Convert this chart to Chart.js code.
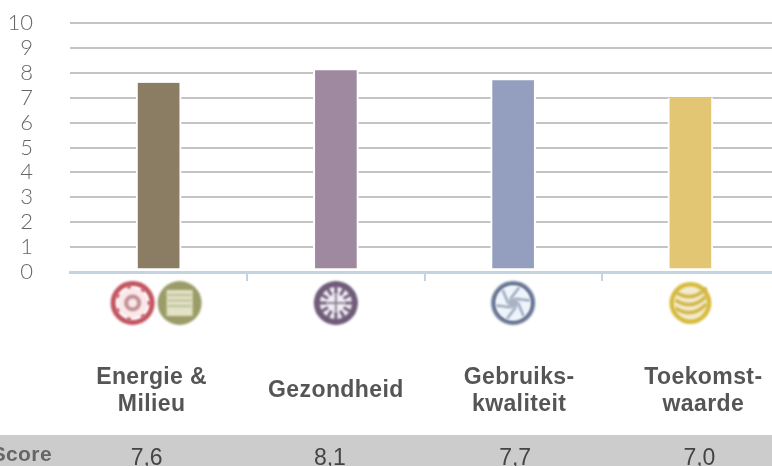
<!DOCTYPE html>
<html>
<head>
<meta charset="utf-8">
<style>
  html, body { margin: 0; padding: 0; background: #fff; overflow: hidden; width: 772px; height: 466px; }
  canvas { display: block; }
</style>
<script src="https://cdn.jsdelivr.net/npm/chart.js@4/dist/chart.umd.min.js"></script>
</head>
<body>
<canvas id="myChart" width="790" height="466"></canvas>
<script>
const categories = ["Energie & Milieu", "Gezondheid", "Gebruiks-kwaliteit", "Toekomst-waarde"];
const labelLines = [["Energie &", "Milieu"], ["Gezondheid"], ["Gebruiks-", "kwaliteit"], ["Toekomst-", "waarde"]];
const scores = [7.6, 8.1, 7.7, 7.0];
const barColors = ["#8a7d64", "#9f89a0", "#949fc0", "#e3c673"];
const yTicks = [0, 1, 2, 3, 4, 5, 6, 7, 8, 9, 10];
const rowTitle = "Score";

// the labels sit a bit off the bar centres in the original
const labelShift = [-7, 0, 6, 13];
const scoreShift = [-12, -6, 2, 9];

const axisBlue = "#c3d3e0";

function ring(ctx, x, y, r, color, lw) {
  ctx.beginPath();
  ctx.arc(x, y, r, 0, Math.PI * 2);
  ctx.strokeStyle = color;
  ctx.lineWidth = lw;
  ctx.stroke();
}

function dot(ctx, x, y, r, color) {
  ctx.beginPath();
  ctx.arc(x, y, r, 0, Math.PI * 2);
  ctx.fillStyle = color;
  ctx.fill();
}

function spokes(ctx, x, y, r1, r2, n, color, lw, skew) {
  ctx.strokeStyle = color;
  ctx.lineWidth = lw;
  for (let i = 0; i < n; i++) {
    const a = (i / n) * Math.PI * 2;
    ctx.beginPath();
    ctx.moveTo(x + r1 * Math.cos(a), y + r1 * Math.sin(a));
    ctx.lineTo(x + r2 * Math.cos(a + skew), y + r2 * Math.sin(a + skew));
    ctx.stroke();
  }
}

function drawIcons(ctx, centers) {
  const y = 303;
  ctx.save();
  ctx.filter = "blur(1px)";

  // red flower
  let x = centers[0] - 26;
  ring(ctx, x, y, 19.5, "#c2545f", 5);
  dot(ctx, x, y, 15, "#fbe9ea");
  ring(ctx, x, y, 6.5, "#c08f95", 4);
  spokes(ctx, x, y, 15, 18, 7, "#c2545f", 4, 0);

  // olive square
  x = centers[0] + 21;
  dot(ctx, x, y, 22, "#9b9c68");
  ctx.fillStyle = "#e1e2c6";
  ctx.fillRect(x - 13, y - 13, 26, 26);
  ctx.strokeStyle = "#b3b48a";
  ctx.lineWidth = 1.5;
  for (let i = -8; i <= 8; i += 5.5) {
    ctx.beginPath();
    ctx.moveTo(x - 12, y + i);
    ctx.lineTo(x + 12, y + i);
    ctx.stroke();
  }

  // purple snowflake
  x = centers[1];
  dot(ctx, x, y, 22, "#6f5c7a");
  dot(ctx, x, y, 16, "#f3eef5");
  spokes(ctx, x, y, 9, 20, 12, "#6f5c7a", 3, 0);
  ctx.fillStyle = "#8f8298";
  ctx.fillRect(x - 9, y - 1, 18, 2);
  ctx.fillRect(x - 1, y - 9, 2, 18);

  // blue shutter
  x = centers[2];
  ring(ctx, x, y, 19.5, "#6a7895", 5);
  dot(ctx, x, y, 17, "#eef4fb");
  spokes(ctx, x, y, 5, 17, 6, "#8d98b0", 2, 0.9);
  dot(ctx, x, y, 5.5, "#a9b2c4");

  // yellow globe
  x = centers[3];
  dot(ctx, x, y, 21, "#d6bb3c");
  dot(ctx, x, y, 16.5, "#f3ecd0");
  ctx.strokeStyle = "#d2b64a";
  ctx.lineWidth = 3.5;
  [-9, -1, 7].forEach(function (b) {
    ctx.beginPath();
    ctx.moveTo(x - 15, y + b - 2);
    ctx.quadraticCurveTo(x + 2, y + b + 9, x + 16, y + b - 6);
    ctx.stroke();
  });
  ctx.restore();
}

const extras = {
  id: "extras",
  afterDraw(chart) {
    const ctx = chart.ctx;
    const xs = chart.scales.x;
    const centers = categories.map((c, i) => xs.getPixelForValue(i));

    drawIcons(ctx, centers);

    ctx.save();
    ctx.fillStyle = "#cccccc";
    ctx.fillRect(0, 435, chart.width, 31);

    ctx.textAlign = "center";
    ctx.textBaseline = "middle";
    ctx.letterSpacing = "0.4px";
    ctx.font = 'bold 23px "Liberation Sans", Arial, sans-serif';
    ctx.fillStyle = "#555555";
    labelLines.forEach((lines, i) => {
      const top = 391 - ((lines.length - 1) * 27) / 2;
      lines.forEach((line, j) => {
        ctx.fillText(line, centers[i] + labelShift[i], top + j * 27);
      });
    });

    ctx.textAlign = "right";
    ctx.fillStyle = "#666666";
    ctx.font = 'bold 21px "Liberation Sans", Arial, sans-serif';
    ctx.fillText(rowTitle, 52, 455);

    ctx.letterSpacing = "0px";
    ctx.textAlign = "center";
    ctx.font = '23px "Liberation Sans", Arial, sans-serif';
    ctx.fillStyle = "#444444";
    scores.forEach((v, i) => {
      ctx.fillText(v.toFixed(1).replace(".", ","), centers[i] + scoreShift[i], 459);
    });
    ctx.restore();
  },
};

const data = {
  labels: categories,
  datasets: [
    {
      label: rowTitle,
      data: scores,
      backgroundColor: barColors,
      borderColor: "#ffffff",
      borderWidth: { left: 2, right: 2, top: 0, bottom: 3 },
      borderSkipped: false,
      barThickness: 45,
    },
  ],
};

const config = {
  type: "bar",
  data: data,
  plugins: [extras],
  options: {
    responsive: false,
    animation: false,
    layout: { padding: { top: 23, right: 11, left: 0, bottom: 0 } },
    plugins: {
      legend: { display: false },
      tooltip: { enabled: false },
    },
    scales: {
      x: {
        afterFit(scale) {
          scale.height = 194;
        },
        grid: {
          z: 1,
          drawOnChartArea: false,
          tickLength: 9,
          lineWidth: 2,
          color: (c) => (c.index === 0 ? "transparent" : axisBlue),
        },
        border: { color: axisBlue, width: 3, z: 1 },
        ticks: { display: false },
      },
      y: {
        min: 0,
        max: 10,
        afterFit(scale) {
          scale.width = 70;
        },
        afterBuildTicks(scale) {
          scale.ticks = yTicks.map((v) => ({ value: v }));
        },
        grid: { tickLength: 37, tickColor: "transparent", lineWidth: 2, color: "#c4c4c4" },
        border: { display: false },
        ticks: {
          padding: 0,
          autoSkip: false,
          color: "#666666",
          font: { family: "Lato, sans-serif", size: 22, weight: "300" },
        },
      },
    },
  },
};

const myChart = new Chart(document.querySelector("#myChart"), config);
</script>
</body>
</html>
